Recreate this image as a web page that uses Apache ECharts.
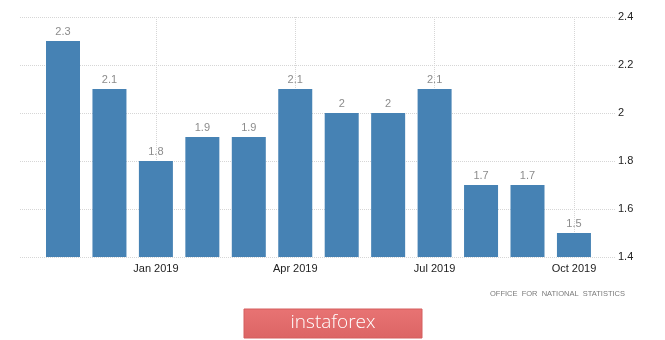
<!DOCTYPE html>
<html>
<head>
<meta charset="utf-8">
<script src="https://cdn.jsdelivr.net/npm/echarts@6/dist/echarts.min.js"></script>
<style>
  html, body { margin: 0; padding: 0; background: #fff; }
  #chart { width: 665px; height: 340px; }
</style>
</head>
<body>
<div id="chart"></div>
<script>
// UK inflation, monthly (%)
const months = ['Nov 2018', 'Dec 2018', 'Jan 2019', 'Feb 2019', 'Mar 2019', 'Apr 2019',
                'May 2019', 'Jun 2019', 'Jul 2019', 'Aug 2019', 'Sep 2019', 'Oct 2019'];
const values = [2.3, 2.1, 1.8, 1.9, 1.9, 2.1, 2, 2, 2.1, 1.7, 1.7, 1.5];
const tickLabels = ['Jan 2019', 'Apr 2019', 'Jul 2019', 'Oct 2019'];
const yTicks = [1.4, 1.6, 1.8, 2, 2.2, 2.4];

// x position of each month counted from the first labelled month
const origin = months.indexOf(tickLabels[0]);
const barData = months.map((m, i) => [i - origin, values[i]]);

const chart = echarts.init(document.getElementById('chart'), null, { renderer: 'canvas' });

const gridLine = { type: 'dotted', color: '#d6d6d6', width: 1 };

chart.setOption({
  animation: false,
  backgroundColor: '#ffffff',
  grid: [
    { left: 20, right: 50, top: 17, bottom: 83 },
    { left: 16.55, right: 44.6, top: 17, bottom: 83 }
  ],
  xAxis: [
    { gridIndex: 0, type: 'value', show: false, min: 0, max: 1 },
    {
      gridIndex: 1,
      type: 'value',
      min: -3,
      max: 10,
      interval: 3,
      axisLine: { show: false },
      axisTick: { show: false },
      splitLine: { show: true, showMinLine: false, showMaxLine: false, lineStyle: gridLine },
      axisLabel: {
        showMinLabel: false,
        showMaxLabel: false,
        margin: 6,
        color: '#222',
        fontFamily: 'Liberation Sans, Arial, sans-serif',
        fontSize: 11,
        formatter: v => {
          const name = months[v + origin];
          return tickLabels.includes(name) ? name : '';
        }
      }
    }
  ],
  yAxis: [
    {
      gridIndex: 0,
      type: 'value',
      position: 'right',
      min: yTicks[0],
      max: yTicks[yTicks.length - 1],
      interval: 0.2,
      axisLine: { show: false },
      axisTick: { show: false },
      splitLine: { show: true, lineStyle: gridLine },
      axisLabel: {
        margin: 3,
        color: '#222',
        fontFamily: 'Liberation Sans, Arial, sans-serif',
        fontSize: 11
      }
    },
    {
      gridIndex: 1,
      type: 'value',
      min: yTicks[0],
      max: yTicks[yTicks.length - 1],
      show: false
    }
  ],
  series: [{
    type: 'bar',
    xAxisIndex: 1,
    yAxisIndex: 1,
    data: barData,
    barWidth: 34,
    itemStyle: { color: '#4682b4' },
    label: {
      show: true,
      position: 'top',
      distance: 4,
      color: '#8c8c8c',
      fontFamily: 'Liberation Sans, Arial, sans-serif',
      fontSize: 11,
      formatter: p => String(p.value[1])
    }
  }],
  graphic: [
    {
      type: 'text',
      right: 40,
      top: 290,
      style: {
        text: 'OFFICE  FOR  NATIONAL  STATISTICS',
        fill: '#7a7a7a',
        font: '7.5px "Liberation Sans", Arial, sans-serif'
      }
    },
    {
      type: 'rect',
      shape: { x: 244, y: 309, width: 178, height: 29 },
      style: {
        fill: new echarts.graphic.LinearGradient(0, 0, 0, 1, [
          { offset: 0, color: '#e87373' },
          { offset: 1, color: '#dc6565' }
        ]),
        stroke: '#d45e5e',
        lineWidth: 1
      }
    },
    {
      type: 'text',
      x: 333,
      y: 323,
      style: {
        text: 'instaforex',
        fill: '#ffffff',
        font: '300 19px "Open Sans", "Noto Sans", sans-serif',
        align: 'center',
        verticalAlign: 'middle'
      }
    }
  ]
});
</script>
</body>
</html>
